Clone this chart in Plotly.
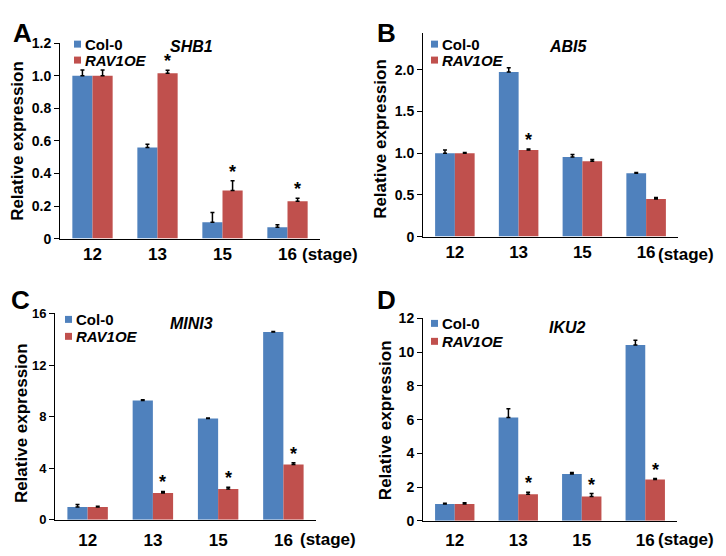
import plotly.graph_objects as go

# measured page -> screen mapping: x shifted by the 8px body margin,
# y shifted and slightly squeezed (screen_y ~ 0.975 * (fig_y + 8) + 7)
OFF_X = 8
OFF_Y = 8
SQ = 0.975
W, H = 718, 580
BLUE = "#4F81BD"
RED = "#C0504D"
FONT = "Arial, Liberation Sans, sans-serif"

stages = ["12", "13", "15", "16"]

# A: SHB1
shb1_col = [1.00, 0.56, 0.10, 0.07]
shb1_col_err = [0.035, 0.02, 0.06, 0.015]
shb1_rav = [1.00, 1.015, 0.295, 0.23]
shb1_rav_err = [0.035, 0.018, 0.06, 0.018]
shb1_star = [False, True, True, True]

# B: ABI5
abi5_col = [1.00, 1.975, 0.955, 0.76]
abi5_col_err = [0.04, 0.05, 0.03, 0.01]
abi5_rav = [1.00, 1.04, 0.905, 0.45]
abi5_rav_err = [0.01, 0.01, 0.02, 0.02]
abi5_star = [False, True, False, False]

# C: MINI3
mini3_col = [1.0, 9.25, 7.85, 14.55]
mini3_col_err = [0.2, 0.05, 0.05, 0.05]
mini3_rav = [1.0, 2.08, 2.4, 4.3]
mini3_rav_err = [0.05, 0.12, 0.12, 0.12]
mini3_star = [False, True, True, True]

# D: IKU2
iku2_col = [1.0, 6.12, 2.78, 10.42]
iku2_col_err = [0.05, 0.52, 0.08, 0.28]
iku2_rav = [1.0, 1.58, 1.45, 2.45]
iku2_rav_err = [0.07, 0.12, 0.17, 0.06]
iku2_star = [False, True, True, True]

shb1_ticks = [0, 0.2, 0.4, 0.6, 0.8, 1.0, 1.2]
shb1_ticktext = ["0", "0.2", "0.4", "0.6", "0.8", "1.0", "1.2"]
abi5_ticks = [0, 0.5, 1.0, 1.5, 2.0]
abi5_ticktext = ["0", "0.5", "1.0", "1.5", "2.0"]
mini3_ticks = [0, 4, 8, 12, 16]
mini3_ticktext = ["0", "4", "8", "12", "16"]
iku2_ticks = [0, 2, 4, 6, 8, 10, 12]
iku2_ticktext = ["0", "2", "4", "6", "8", "10", "12"]


def px(x):
    return (x - OFF_X) / W


def py(y):
    return 1 - ((y - 7) / SQ - OFF_Y) / H


panels = [
    dict(letter="A", gene="SHB1", col=shb1_col, col_err=shb1_col_err, rav=shb1_rav,
         rav_err=shb1_rav_err, star=shb1_star, ticks=shb1_ticks, ticktext=shb1_ticktext,
         yr=[0, 1.2], xpx=(60, 320), ypx=(238, 42), tickfs=14, standoff=0,
         letter_xy=(22, None), gene_xy=(191, 45), title_xy=(18, 140),
         leg_x=74, leg_y=(43, 59), stage_xy=(360, 254)),
    dict(letter="B", gene="ABI5", col=abi5_col, col_err=abi5_col_err, rav=abi5_rav,
         rav_err=abi5_rav_err, star=abi5_star, ticks=abi5_ticks, ticktext=abi5_ticktext,
         yr=[0, 2.44], xpx=(423, 678), ypx=(236, 32), tickfs=14, standoff=0,
         letter_xy=(386, None), gene_xy=(568, 45), title_xy=(381, 138),
         leg_x=431, leg_y=(43, 59), stage_xy=(716, 254)),
    dict(letter="C", gene="MINI3", col=mini3_col, col_err=mini3_col_err, rav=mini3_rav,
         rav_err=mini3_rav_err, star=mini3_star, ticks=mini3_ticks, ticktext=mini3_ticktext,
         yr=[0, 16], xpx=(55, 316), ypx=(520, 313), tickfs=13, standoff=5,
         letter_xy=(20, 300), gene_xy=(191, 323), title_xy=(21, 423),
         leg_x=65, leg_y=(319, 336), stage_xy=(358, 540)),
    dict(letter="D", gene="IKU2", col=iku2_col, col_err=iku2_col_err, rav=iku2_rav,
         rav_err=iku2_rav_err, star=iku2_star, ticks=iku2_ticks, ticktext=iku2_ticktext,
         yr=[0, 12], xpx=(423, 677), ypx=(521, 318), tickfs=14, standoff=4,
         letter_xy=(386, 300), gene_xy=(567, 327), title_xy=(385, 420),
         leg_x=431, leg_y=(323, 341), stage_xy=(716, 540)),
]

fig = go.Figure()
annotations = []
shapes = []
xpos = [0, 1, 2, 3]
bw = 0.31


def note(x, y, text, size, **kw):
    a = dict(x=px(x), y=py(y), xref="paper", yref="paper", text=text, showarrow=False,
             xanchor="center", yanchor="middle",
             font=dict(family=FONT, size=size, color="black", weight="bold"))
    a.update(kw)
    annotations.append(a)


for i, p in enumerate(panels):
    sfx = "" if i == 0 else str(i + 1)
    xa, ya = "x" + sfx, "y" + sfx
    err_style = dict(type="data", symmetric=False, color="black", thickness=1.5, width=2)
    fig.add_trace(go.Bar(
        x=xpos, y=p["col"], width=bw, offset=-bw, marker=dict(color=BLUE, line=dict(width=0)),
        error_y=dict(array=p["col_err"], arrayminus=[0] * 4, **err_style),
        xaxis=xa, yaxis=ya, showlegend=False,
    ))
    fig.add_trace(go.Bar(
        x=xpos, y=p["rav"], width=bw, offset=0, marker=dict(color=RED, line=dict(width=0)),
        error_y=dict(array=p["rav_err"], arrayminus=[0] * 4, **err_style),
        xaxis=xa, yaxis=ya, showlegend=False,
    ))

    x0, x1 = p["xpx"]
    yb, yt = p["ypx"]
    fig.update_layout(**{
        "xaxis" + sfx: dict(
            domain=[px(x0), px(x1)], range=[-0.5, 3.5], anchor=ya,
            tickvals=xpos, ticktext=stages, showline=True, linecolor="black", linewidth=1,
            ticks="", showgrid=False, zeroline=False, fixedrange=True,
            ticklabelstandoff=p["standoff"],
            tickfont=dict(family=FONT, size=17, color="black", weight="bold"),
        ),
        "yaxis" + sfx: dict(
            domain=[py(yb), py(yt)], range=p["yr"], anchor=xa,
            tickvals=p["ticks"], ticktext=p["ticktext"], showline=True, linecolor="black",
            linewidth=1, ticks="outside", ticklen=5, tickcolor="black", showgrid=False,
            zeroline=False, fixedrange=True,
            tickfont=dict(family=FONT, size=p["tickfs"], color="black", weight="bold"),
        ),
    })

    # asterisks above significant RAV1OE bars
    for j, s in enumerate(p["star"]):
        if s:
            annotations.append(dict(
                x=xpos[j] + bw / 2, y=p["rav"][j] + p["rav_err"][j], xref=xa, yref=ya,
                text="*", showarrow=False, xanchor="center", yanchor="bottom", yshift=-3,
                font=dict(family=FONT, size=18, color="black", weight="bold"),
            ))

    lx, ly = p["letter_xy"]
    if ly is None:
        # top row letters sit right at the top edge of the figure
        annotations.append(dict(x=px(lx), y=1.0, xref="paper", yref="paper", text=p["letter"],
                                showarrow=False, xanchor="center", yanchor="top",
                                font=dict(family=FONT, size=26, color="black", weight="bold")))
    else:
        note(lx, ly, p["letter"], 26)
    note(*p["gene_xy"], "<i>" + p["gene"] + "</i>", 16)
    note(*p["title_xy"], "Relative expression", 17, textangle=-90)
    note(*p["stage_xy"], "(stage)", 17, xanchor="right")

    # legend
    for k, (lab, colr) in enumerate([("Col-0", BLUE), ("<i>RAV1OE</i>", RED)]):
        cy = p["leg_y"][k]
        shapes.append(dict(type="rect", xref="paper", yref="paper", x0=px(p["leg_x"]), x1=px(p["leg_x"] + 7),
                           y0=py(cy + 3.5), y1=py(cy - 3.5), fillcolor=colr, line=dict(width=0)))
        note(p["leg_x"] + 9, cy, lab, 15, xanchor="left")

fig.update_layout(
    width=W, height=H, margin=dict(l=0, r=0, t=0, b=0),
    paper_bgcolor="white", plot_bgcolor="white",
    barmode="overlay", annotations=annotations, shapes=shapes,
)

fig.write_html("out.html")
